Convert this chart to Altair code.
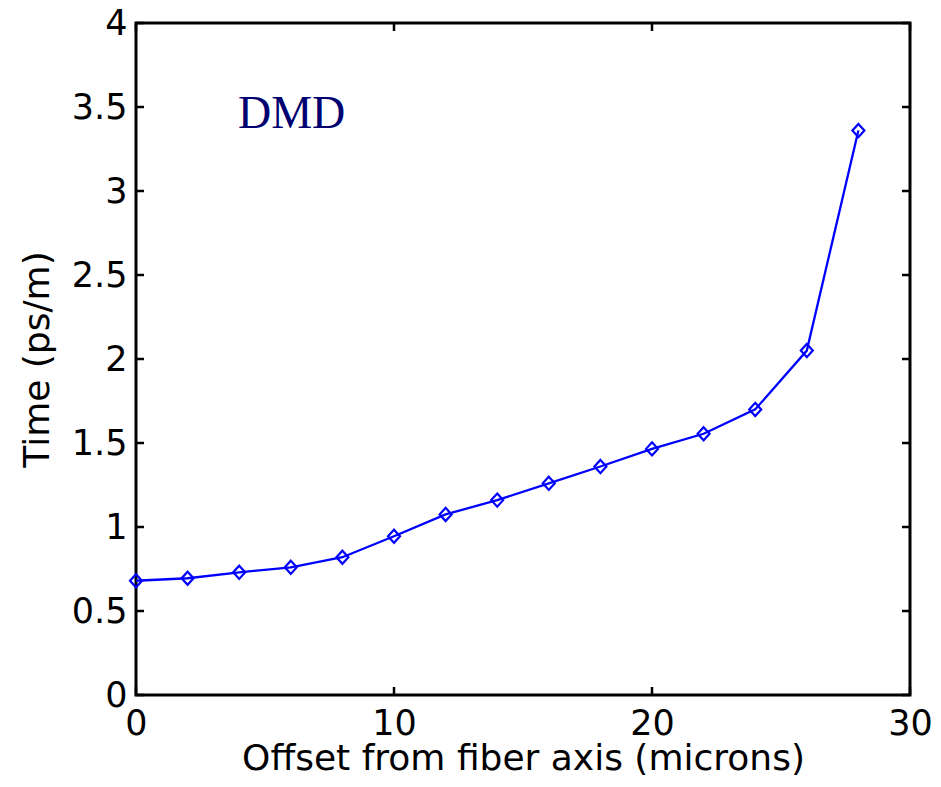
import altair as alt
import pandas as pd

# Data
offset_um = [0, 2, 4, 6, 8, 10, 12, 14, 16, 18, 20, 22, 24, 26, 28]
time_ps_m = [0.68, 0.695, 0.73, 0.76, 0.82, 0.945, 1.075, 1.16, 1.26, 1.36,
             1.465, 1.555, 1.70, 2.05, 3.36]

x_ticks = [0, 10, 20, 30]
y_ticks = [0, 0.5, 1, 1.5, 2, 2.5, 3, 3.5, 4]

annot_text = ["DMD"]
annot_x = [3.95]
annot_y = [3.46]

W, H = 774, 672
TICK = 8

df = pd.DataFrame({"x": offset_um, "y": time_ps_m})
xt = pd.DataFrame({"v": x_ticks})
yt = pd.DataFrame({"v": y_ticks})
ann = pd.DataFrame({"t": annot_text, "x": annot_x, "y": annot_y})

FONT = "DejaVu Sans"
FS = 35

xscale = alt.Scale(domain=[0, 30], nice=False, zero=False)
yscale = alt.Scale(domain=[0, 4], nice=False, zero=False)

xaxis = alt.Axis(values=x_ticks, ticks=False, domain=False, grid=False,
                 format="~g",
                 labelFont=FONT, labelFontSize=FS, labelColor="black",
                 labelPadding=11, labelFlush=False,
                 title="Offset from fiber axis (microns)", titleFont=FONT,
                 titleFontSize=36, titleFontWeight="normal", titleColor="black",
                 titlePadding=0)
yaxis = alt.Axis(values=y_ticks, ticks=False, domain=False, grid=False,
                 format="~g",
                 labelFont=FONT, labelFontSize=FS, labelColor="black",
                 labelPadding=9, labelFlush=False,
                 title="Time (ps/m)", titleFont=FONT,
                 titleFontSize=36, titleFontWeight="normal", titleColor="black",
                 titlePadding=15)

line = alt.Chart(df).mark_line(color="#0000ff", strokeWidth=2.3).encode(
    x=alt.X("x:Q", scale=xscale, axis=xaxis),
    y=alt.Y("y:Q", scale=yscale, axis=yaxis),
)
pts = alt.Chart(df).mark_point(
    shape="M0,-1.1L1,0L0,1.1L-1,0Z", size=144, filled=False,
    color="#0000ff", strokeWidth=2.2, opacity=1
).encode(x=alt.X("x:Q", scale=xscale), y=alt.Y("y:Q", scale=yscale))

tick_style = dict(color="black", strokeWidth=2.5)
xt_bot = alt.Chart(xt).mark_rule(**tick_style).encode(
    x=alt.X("v:Q", scale=xscale), y=alt.value(H), y2=alt.value(H - TICK))
xt_top = alt.Chart(xt).mark_rule(**tick_style).encode(
    x=alt.X("v:Q", scale=xscale), y=alt.value(0), y2=alt.value(TICK))
yt_left = alt.Chart(yt).mark_rule(**tick_style).encode(
    y=alt.Y("v:Q", scale=yscale), x=alt.value(0), x2=alt.value(TICK))
yt_right = alt.Chart(yt).mark_rule(**tick_style).encode(
    y=alt.Y("v:Q", scale=yscale), x=alt.value(W), x2=alt.value(W - TICK))

label = alt.Chart(ann).mark_text(
    font="Liberation Serif", fontSize=46, color="#000070",
    align="left", baseline="middle"
).encode(x=alt.X("x:Q", scale=xscale), y=alt.Y("y:Q", scale=yscale), text="t:N")

chart = alt.layer(line, pts, xt_bot, xt_top, yt_left, yt_right, label).properties(
    width=W, height=H,
    title=alt.TitleParams("Delay vs. Radial offset", font=FONT, fontSize=36,
                          fontWeight="normal", color="black", baseline="alphabetic",
                          offset=13, anchor="middle"),
    autosize=alt.AutoSizeParams(type="none"),
    padding={"left": 128, "top": 15, "right": 21, "bottom": 80},
).configure(background="white").configure_view(stroke="black", strokeWidth=3)

chart.save("out.html", embed_options={"renderer": "svg", "actions": False})
